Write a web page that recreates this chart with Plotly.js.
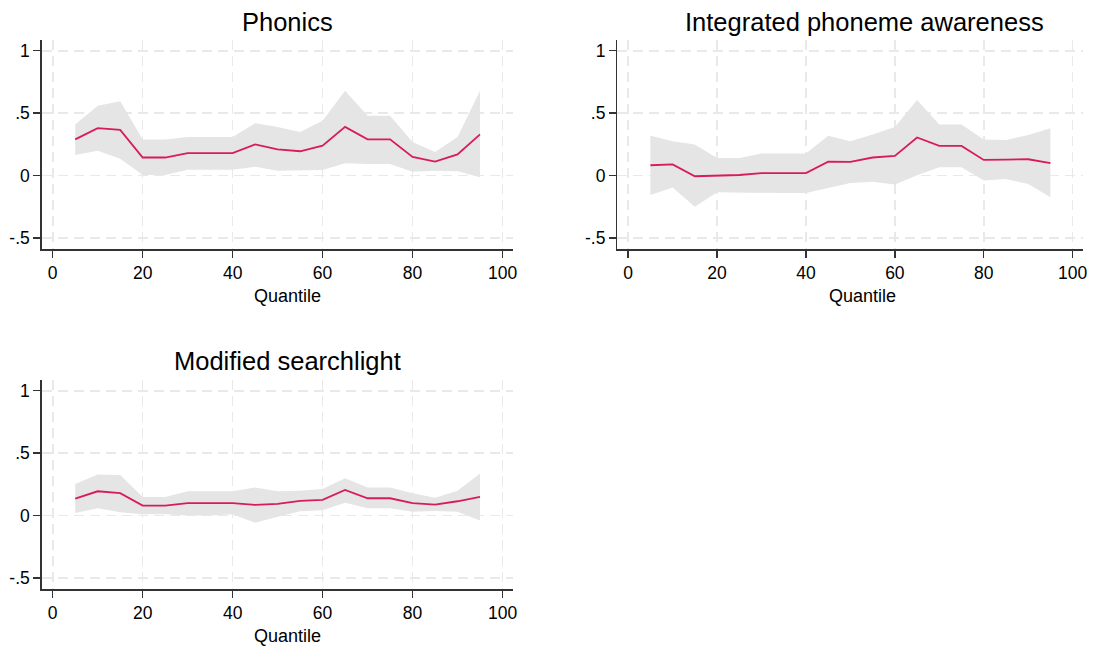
<!DOCTYPE html>
<html>
<head>
<meta charset="utf-8">
<script src="https://cdn.plot.ly/plotly-3.0.1.min.js"></script>
<style>html,body{margin:0;padding:0;background:#fff;}#chart{width:1117px;height:650px;}</style>
</head>
<body>
<div id="chart"></div>
<script>
// Quantiles
const quantiles = [5,10,15,20,25,30,35,40,45,50,55,60,65,70,75,80,85,90,95];

// Panel titles
const panelTitles = ["Phonics", "Integrated phoneme awareness", "Modified searchlight"];

// Phonics
const phonicsEst   = [0.29,0.38,0.366,0.145,0.145,0.18,0.18,0.18,0.25,0.21,0.195,0.24,0.39,0.29,0.29,0.15,0.112,0.17,0.33];
const phonicsUpper = [0.41,0.56,0.595,0.29,0.29,0.31,0.31,0.31,0.42,0.39,0.35,0.44,0.68,0.48,0.48,0.27,0.19,0.31,0.68];
const phonicsLower = [0.165,0.20,0.136,0.005,0.005,0.048,0.048,0.048,0.072,0.04,0.04,0.045,0.10,0.094,0.094,0.03,0.04,0.035,-0.013];

// Integrated phoneme awareness
const ipaEst   = [0.083,0.09,-0.005,0.003,0.005,0.02,0.02,0.02,0.112,0.11,0.145,0.158,0.305,0.238,0.238,0.126,0.128,0.131,0.10];
const ipaUpper = [0.32,0.275,0.25,0.142,0.142,0.177,0.177,0.177,0.32,0.275,0.33,0.39,0.605,0.41,0.41,0.29,0.285,0.325,0.38];
const ipaLower = [-0.155,-0.096,-0.25,-0.134,-0.134,-0.14,-0.14,-0.14,-0.10,-0.06,-0.05,-0.072,0.003,0.067,0.067,-0.04,-0.027,-0.067,-0.174];

// Modified searchlight
const msEst   = [0.136,0.195,0.18,0.08,0.08,0.10,0.10,0.10,0.086,0.094,0.118,0.126,0.206,0.139,0.139,0.10,0.088,0.115,0.15];
const msUpper = [0.254,0.33,0.326,0.15,0.15,0.195,0.195,0.195,0.225,0.195,0.20,0.214,0.30,0.225,0.225,0.18,0.144,0.20,0.337];
const msLower = [0.02,0.06,0.027,0.01,0.01,0.0,0.0,0.01,-0.058,-0.01,0.035,0.043,0.104,0.06,0.06,0.03,0.037,0.03,-0.04];

// Axis ticks
const xTicks = [0,20,40,60,80,100];
const yTicks = [-0.5,0,0.5,1];
const yTickText = ["-.5","0",".5","1"];
const xAxisLabel = "Quantile";

const W = 1117, H = 650;
const lineColor = "#d81b5c";
const bandColor = "#e5e5e5";
const gridColor = "#e9e9e9";
const axisColor = "#333333";
const fontFam = "Liberation Sans, Arial, sans-serif";

const panels = [
  {est: phonicsEst, up: phonicsUpper, lo: phonicsLower, xd:[41.7,513.3], yd:[40,249.3], tx:287.5, ty:21.5, qx:287},
  {est: ipaEst, up: ipaUpper, lo: ipaLower, xd:[617.3,1083.3], yd:[40,249.3], tx:864, ty:21.5, qx:863},
  {est: msEst, up: msUpper, lo: msLower, xd:[41.7,513.3], yd:[380,589.3], tx:287.5, ty:361.5, qx:287}
];

const data = [];
const layout = {
  width: W, height: H,
  margin: {l:0, r:0, t:0, b:0},
  paper_bgcolor: "#ffffff", plot_bgcolor: "#ffffff",
  showlegend: false,
  font: {family: fontFam, color: "#000"},
  annotations: []
};

panels.forEach((p, i) => {
  const n = i === 0 ? "" : String(i + 1);
  const xa = "x" + n, ya = "y" + n;
  data.push({
    x: quantiles.concat(quantiles.slice().reverse()),
    y: p.up.concat(p.lo.slice().reverse()),
    type: "scatter", mode: "lines", fill: "toself",
    fillcolor: bandColor, line: {width: 0, color: bandColor},
    xaxis: xa, yaxis: ya, hoverinfo: "skip"
  });
  data.push({
    x: quantiles, y: p.est, type: "scatter", mode: "lines",
    line: {color: lineColor, width: 1.8},
    xaxis: xa, yaxis: ya
  });
  const common = {
    showgrid: true, gridcolor: gridColor, griddash: "10px,6px", gridwidth: 1.6,
    zeroline: false, showline: true, linecolor: axisColor, linewidth: 1.4,
    ticks: "outside", ticklen: 7, tickcolor: axisColor, tickwidth: 1.4,
    tickfont: {size: 17.5, family: fontFam, color: "#000"}
  };
  layout["xaxis" + n] = Object.assign({}, common, {
    domain: [p.xd[0] / W, p.xd[1] / W],
    range: [-2.45, 102.4], tickmode: "array", tickvals: xTicks,
    anchor: ya
  });
  layout["yaxis" + n] = Object.assign({}, common, {
    domain: [1 - p.yd[1] / H, 1 - p.yd[0] / H],
    range: [-0.59, 1.086], tickmode: "array", tickvals: yTicks, ticktext: yTickText,
    anchor: xa
  });
  layout.annotations.push({
    text: panelTitles[i], xref: "paper", yref: "paper",
    x: p.tx / W, y: 1 - p.ty / H, xanchor: "center", yanchor: "middle",
    showarrow: false, font: {size: 25.5, family: fontFam, color: "#000"}
  });
  layout.annotations.push({
    text: xAxisLabel, xref: "paper", yref: "paper",
    x: p.qx / W, y: 1 - (p.yd[1] + 47) / H, xanchor: "center", yanchor: "middle",
    showarrow: false, font: {size: 18, family: fontFam, color: "#000"}
  });
});

Plotly.newPlot("chart", data, layout, {displayModeBar: false, staticPlot: true});
</script>
</body>
</html>
